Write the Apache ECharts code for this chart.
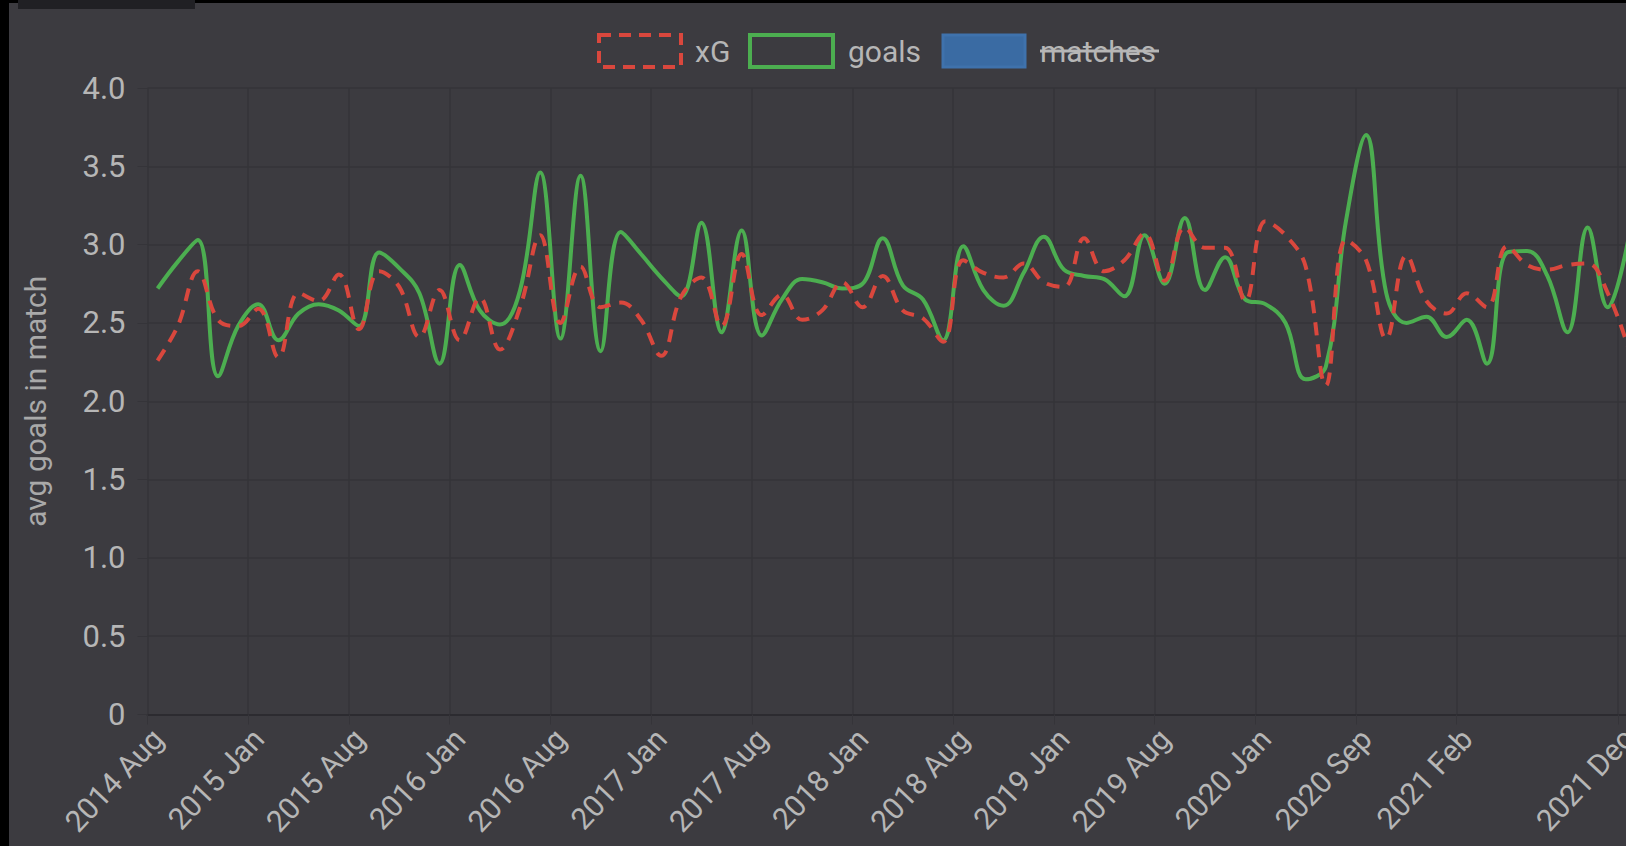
<!DOCTYPE html>
<html>
<head>
<meta charset="utf-8">
<title>avg goals in match</title>
<script src="https://cdn.jsdelivr.net/npm/echarts@6/dist/echarts.min.js"></script>
<style>
  html, body { margin: 0; padding: 0; background: #000; overflow: hidden; }
  #chart { position: absolute; left: 0; top: 0; width: 1626px; height: 846px; }
</style>
</head>
<body>
<div id="chart"></div>
<script>
// one point per month with matches (no Jun/Jul, covid restart in Jun/Jul 2020)
var months = [
  '2014 Aug', '2014 Sep', '2014 Oct', '2014 Nov', '2014 Dec', '2015 Jan', '2015 Feb', '2015 Mar', '2015 Apr', '2015 May',
  '2015 Aug', '2015 Sep', '2015 Oct', '2015 Nov', '2015 Dec', '2016 Jan', '2016 Feb', '2016 Mar', '2016 Apr', '2016 May',
  '2016 Aug', '2016 Sep', '2016 Oct', '2016 Nov', '2016 Dec', '2017 Jan', '2017 Feb', '2017 Mar', '2017 Apr', '2017 May',
  '2017 Aug', '2017 Sep', '2017 Oct', '2017 Nov', '2017 Dec', '2018 Jan', '2018 Feb', '2018 Mar', '2018 Apr', '2018 May',
  '2018 Aug', '2018 Sep', '2018 Oct', '2018 Nov', '2018 Dec', '2019 Jan', '2019 Feb', '2019 Mar', '2019 Apr', '2019 May',
  '2019 Aug', '2019 Sep', '2019 Oct', '2019 Nov', '2019 Dec', '2020 Jan', '2020 Feb', '2020 Mar', '2020 Jun', '2020 Jul',
  '2020 Sep', '2020 Oct', '2020 Nov', '2020 Dec', '2021 Jan', '2021 Feb', '2021 Mar', '2021 Apr', '2021 May',
  '2021 Aug', '2021 Sep', '2021 Oct', '2021 Nov', '2021 Dec'
];

// indices of the month labels that are actually printed
var shownTicks = [0, 5, 10, 15, 20, 25, 30, 35, 40, 45, 50, 55, 60, 65, 73];

var xg = [
  2.26, 2.48, 2.83, 2.52, 2.48, 2.59, 2.28, 2.69, 2.64, 2.81,
  2.46, 2.83, 2.73, 2.41, 2.71, 2.39, 2.66, 2.33, 2.60, 3.06,
  2.50, 2.86, 2.60, 2.63, 2.52, 2.29, 2.67, 2.79, 2.48, 2.94,
  2.55, 2.68, 2.52, 2.58, 2.76, 2.60, 2.80, 2.58, 2.53, 2.38,
  2.90, 2.82, 2.79, 2.88, 2.76, 2.73, 3.04, 2.83, 2.90, 3.07,
  2.77, 3.11, 2.98, 2.98, 2.64, 3.15, 3.06, 2.86, 2.10, 3.03,
  2.90, 2.40, 2.93, 2.64, 2.56, 2.69, 2.60, 2.99, 2.87,
  2.84, 2.87, 2.88, 2.69, 2.35
];

var goals = [
  2.72, 2.89, 3.03, 2.16, 2.48, 2.62, 2.39, 2.56, 2.62, 2.58,
  2.48, 2.95, 2.85, 2.69, 2.24, 2.87, 2.58, 2.49, 2.71, 3.46,
  2.40, 3.44, 2.32, 3.08, 2.94, 2.79, 2.67, 3.14, 2.44, 3.09,
  2.42, 2.65, 2.78, 2.76, 2.72, 2.75, 3.04, 2.74, 2.65, 2.39,
  2.99, 2.71, 2.61, 2.82, 3.05, 2.84, 2.80, 2.78, 2.67, 3.06,
  2.75, 3.17, 2.71, 2.92, 2.65, 2.62, 2.50, 2.14, 2.22, 3.15,
  3.70, 2.69, 2.50, 2.54, 2.41, 2.52, 2.24, 2.95, 2.96,
  2.80, 2.44, 3.11, 2.60, 3.02
];

var FONT = 'Roboto';
var LABEL = '#b6b6b6';
var GRID = '#353439';
var RED = '#d9473d';
var GREEN = '#4cae50';
var BLUE = '#3a6ba3';

function isShown(idx) {
  return shownTicks.indexOf(idx) !== -1;
}

var chart = echarts.init(document.getElementById('chart'), null, { renderer: 'svg' });

var option = {
  animation: false,
  backgroundColor: '#3c3b40',
  textStyle: { fontFamily: FONT },
  grid: {
    left: 147.5,
    right: -12,
    top: 88,
    bottom: 131.5,
    outerBoundsMode: 'none'
  },
  xAxis: {
    type: 'category',
    data: months,
    boundaryGap: true,
    axisLine: { show: true, lineStyle: { color: '#2c2b30', width: 2 } },
    axisTick: { show: true, interval: isShown, length: 10, lineStyle: { color: GRID } },
    splitLine: { show: true, interval: isShown, lineStyle: { color: GRID, width: 1.5 } },
    axisLabel: {
      interval: isShown,
      rotate: 47,
      margin: 19,
      color: LABEL,
      fontSize: 30,
      fontFamily: FONT
    }
  },
  yAxis: {
    type: 'value',
    min: 0,
    max: 4,
    interval: 0.5,
    name: 'avg goals in match',
    nameLocation: 'middle',
    nameRotate: 90,
    nameGap: 97,
    nameTextStyle: { color: '#a9a9a9', fontSize: 30, fontFamily: FONT },
    axisLine: { show: false },
    axisTick: { show: true, length: 10, lineStyle: { color: GRID } },
    splitLine: { show: true, lineStyle: { color: GRID, width: 1.5 } },
    axisLabel: {
      margin: 22,
      color: LABEL,
      fontSize: 31,
      fontFamily: FONT,
      formatter: function (v) { return v === 0 ? '0' : v.toFixed(1); }
    }
  },
  series: [
    {
      name: 'goals',
      type: 'line',
      data: goals,
      smooth: 0.4,
      showSymbol: false,
      lineStyle: { color: GREEN, width: 4 },
      itemStyle: { color: GREEN }
    },
    {
      name: 'xG',
      type: 'line',
      data: xg,
      smooth: 0.4,
      showSymbol: false,
      lineStyle: { color: RED, width: 4, type: [13, 9] },
      itemStyle: { color: RED }
    }
  ],
  graphic: [
    // black frame and the dark tab at the top
    { type: 'rect', shape: { x: 0, y: 0, width: 9, height: 846 }, style: { fill: '#000' } },
    { type: 'rect', shape: { x: 0, y: 0, width: 1626, height: 3 }, style: { fill: '#000' } },
    { type: 'rect', shape: { x: 18, y: 0, width: 177, height: 9 }, style: { fill: '#202024' } },

    // legend
    { type: 'rect', shape: { x: 599, y: 35, width: 82, height: 32 },
      style: { fill: 'transparent', stroke: RED, lineWidth: 4, lineDash: [12, 8] } },
    { type: 'text', x: 695, y: 51,
      style: { text: 'xG', fill: LABEL, font: '30px Roboto', verticalAlign: 'middle' } },
    { type: 'rect', shape: { x: 750, y: 35, width: 83, height: 32 },
      style: { fill: 'transparent', stroke: GREEN, lineWidth: 4 } },
    { type: 'text', x: 848, y: 51,
      style: { text: 'goals', fill: LABEL, font: '30px Roboto', verticalAlign: 'middle' } },
    { type: 'rect', shape: { x: 943, y: 35, width: 82, height: 32 },
      style: { fill: BLUE, stroke: '#3f72ac', lineWidth: 3 } },
    { type: 'text', x: 1040, y: 51,
      style: { text: 'matches', fill: LABEL, font: '30px Roboto', verticalAlign: 'middle' } },
    { type: 'line', shape: { x1: 1040, y1: 51, x2: 1159, y2: 51 },
      style: { stroke: LABEL, lineWidth: 3 } }
  ]
};

chart.setOption(option);
</script>
</body>
</html>
